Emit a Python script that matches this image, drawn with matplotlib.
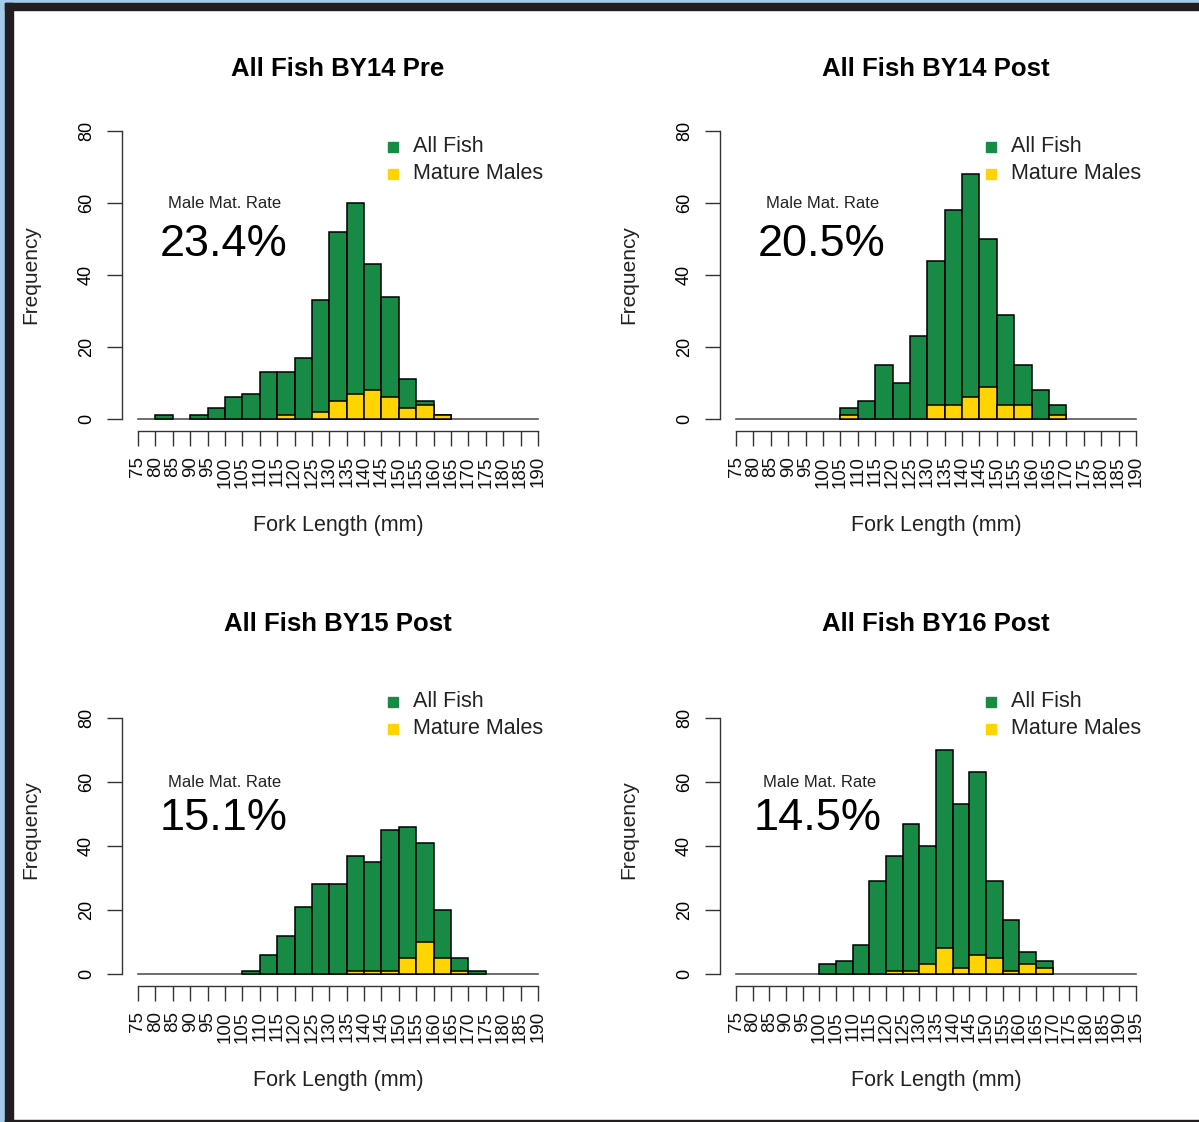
import numpy as np
import matplotlib.pyplot as plt
from matplotlib.patches import Rectangle

plt.rcParams['font.family'] = ['Liberation Sans', 'DejaVu Sans']

GREEN = '#178B45'
YELLOW = '#FFD400'

titles = ['All Fish BY14 Pre', 'All Fish BY14 Post', 'All Fish BY15 Post', 'All Fish BY16 Post']
rates = ['23.4%', '20.5%', '15.1%', '14.5%']
legend_labels = ['All Fish', 'Mature Males']

# histogram breaks (fork length, mm)
breaks_a = list(range(75, 195, 5))   # 75 .. 190
breaks_b = list(range(75, 200, 5))   # 75 .. 195

# counts per 5 mm bin, starting at 75
all_by14_pre = [0, 1, 0, 1, 3, 6, 7, 13, 13, 17, 33, 52, 60, 43, 34, 11, 5, 1, 0, 0, 0, 0, 0]
mat_by14_pre = [0, 0, 0, 0, 0, 0, 0, 0, 1, 0, 2, 5, 7, 8, 6, 3, 4, 1, 0, 0, 0, 0, 0]

all_by14_post = [0, 0, 0, 0, 0, 0, 3, 5, 15, 10, 23, 44, 58, 68, 50, 29, 15, 8, 4, 0, 0, 0, 0]
mat_by14_post = [0, 0, 0, 0, 0, 0, 1, 0, 0, 0, 0, 4, 4, 6, 9, 4, 4, 0, 1, 0, 0, 0, 0]

all_by15_post = [0, 0, 0, 0, 0, 0, 1, 6, 12, 21, 28, 28, 37, 35, 45, 46, 41, 20, 5, 1, 0, 0, 0]
mat_by15_post = [0, 0, 0, 0, 0, 0, 0, 0, 0, 0, 0, 0, 1, 1, 1, 5, 10, 5, 1, 0, 0, 0, 0]

all_by16_post = [0, 0, 0, 0, 0, 3, 4, 9, 29, 37, 47, 40, 70, 53, 63, 29, 17, 7, 4, 0, 0, 0, 0, 0]
mat_by16_post = [0, 0, 0, 0, 0, 0, 0, 0, 0, 1, 1, 3, 8, 2, 6, 5, 1, 3, 2, 0, 0, 0, 0, 0]

panels = [
    (all_by14_pre, mat_by14_pre, breaks_a, 80),
    (all_by14_post, mat_by14_post, breaks_a, 80),
    (all_by15_post, mat_by15_post, breaks_a, 90),
    (all_by16_post, mat_by16_post, breaks_b, 90),
]

W, H = 1199, 1122
fig = plt.figure(figsize=(W / 100, H / 100), dpi=100)

# window frame from the screenshot
fig.patches.append(Rectangle((0, 0), 5 / W, 1, transform=fig.transFigure, color='#A3CAEA', zorder=-1))
fig.patches.append(Rectangle((0, 1 - 3 / H), 1, 3 / H, transform=fig.transFigure, color='#A3CAEA', zorder=-1))
fig.patches.append(Rectangle((5 / W, 0), 8 / W, 1 - 3 / H, transform=fig.transFigure, color='#221E1F', zorder=0))
fig.patches.append(Rectangle((5 / W, 1 - 10 / H), 1, 7 / H, transform=fig.transFigure, color='#221E1F', zorder=0))
fig.patches.append(Rectangle((5 / W, 0), 1, 2.5 / H, transform=fig.transFigure, color='#221E1F', zorder=0))

ax_w, ax_h = 432 / W, 311 / H
lefts = [122 / W, 720 / W]
bottoms = [1 - 430.5 / H, 1 - 985.5 / H]


def drawPanel(ax, all_counts, mat_counts, breaks, ymax, title, rate):
    lo = np.array(breaks[:-1])
    all_counts = np.array(all_counts)
    mat_counts = np.array(mat_counts)
    keep = all_counts > 0
    ax.bar(lo[keep], all_counts[keep], width=5, align='edge', color=GREEN,
           edgecolor='black', linewidth=1.1, zorder=2)
    keep = mat_counts > 0
    ax.bar(lo[keep], mat_counts[keep], width=5, align='edge', color=YELLOW,
           edgecolor='black', linewidth=1.1, zorder=3)
    ax.plot([breaks[0], breaks[-1]], [0, 0], color='#555555', lw=1.2, zorder=1)

    xr = (breaks[-1] - breaks[0]) * 0.04
    ax.set_xlim(breaks[0] - xr, breaks[-1] + xr)
    ax.set_ylim(-ymax * 0.04, ymax * 1.04)

    for s in ['top', 'right']:
        ax.spines[s].set_visible(False)
    ax.spines['left'].set_bounds(0, 80)
    ax.spines['bottom'].set_bounds(breaks[0], breaks[-1])
    for s in ['left', 'bottom']:
        ax.spines[s].set_color('#333333')
        ax.spines[s].set_linewidth(1.0)

    ax.set_xticks(breaks)
    ax.set_xticklabels([str(b) for b in breaks], rotation=90, fontsize=13.5,
                       color='#111111')
    ax.set_yticks([0, 20, 40, 60, 80])
    ax.set_yticklabels(['0', '20', '40', '60', '80'], rotation=90, fontsize=13, va='center')
    ax.tick_params(length=10.5, width=1.0, color='#333333', pad=9)
    ax.tick_params(axis='x', pad=8)

    ax.text(0.5, 1.140, title, transform=ax.transAxes, ha='center', va='baseline',
            fontsize=18.5, fontweight='bold')
    ax.text(0.5, -0.323, 'Fork Length (mm)', transform=ax.transAxes, ha='center',
            va='baseline', fontsize=15.5, color='#222222')
    ax.text(-0.211, 0.5, 'Frequency', transform=ax.transAxes, ha='center', va='center',
            rotation=90, fontsize=15, color='#222222')

    # maturation rate annotation
    ax.text(100, 60, 'Male Mat. Rate', ha='center', va='center', fontsize=12, color='#222222')
    ax.text(99.5, 48.5, rate, ha='center', va='center', fontsize=32.5)

    # legend
    for k, (lab, col) in enumerate(zip(legend_labels, [GREEN, YELLOW])):
        yy = 0.912 - k * 0.087
        ax.plot([0.627], [yy], marker='s', ms=7, color=col, ls='', transform=ax.transAxes,
                clip_on=False)
        ax.text(0.674, yy, lab, transform=ax.transAxes, ha='left', va='center',
                fontsize=15.5, color='#222222')


for i in range(4):
    ax = fig.add_axes([lefts[i % 2], bottoms[i // 2], ax_w, ax_h])
    all_counts, mat_counts, breaks, ymax = panels[i]
    drawPanel(ax, all_counts, mat_counts, breaks, ymax, titles[i], rates[i])

fig.savefig('out.png', dpi=100)
